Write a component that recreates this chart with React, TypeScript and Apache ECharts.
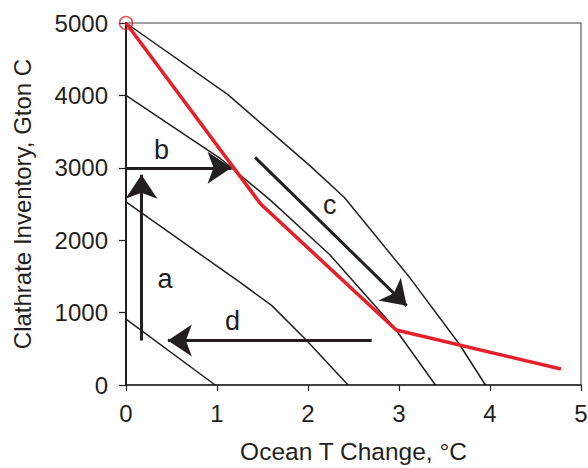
import React, { useEffect, useRef } from "react";
import * as echarts from "echarts";

// Curves (x: ocean T change °C, y: clathrate inventory Gton C)
const curve1X = [0, 1.12, 2.02, 2.4, 3.12, 3.66, 3.95];
const curve1Y = [5000, 4010, 3030, 2590, 1480, 570, 0];
const curve2X = [0, 1.03, 1.58, 2.24, 2.95, 3.4];
const curve2Y = [4000, 3135, 2560, 1800, 790, 0];
const curve3X = [0, 1.25, 1.6, 1.98, 2.44];
const curve3Y = [2530, 1420, 1100, 622, 0];
const curve4X = [0, 0.98];
const curve4Y = [910, 0];
const redX = [0, 1.48, 2.97, 4.78];
const redY = [5000, 2500, 760, 220];
const startPoint = [0, 5000];

// Arrows: start -> tip
const arrowStarts = [[0.17, 613], [0, 3000], [1.418, 3144], [2.7, 613]];
const arrowTips = [[0.17, 2905], [1.16, 3000], [3.085, 1093], [0.46, 613]];

// Letter labels
const letterNames = ["a", "b", "c", "d"];
const letterX = [0.43, 0.39, 2.24, 1.17];
const letterY = [1466, 3250, 2490, 890];

const xTicks = [0, 1, 2, 3, 4, 5];
const yTicks = [0, 1000, 2000, 3000, 4000, 5000];

const FONT = "'Liberation Sans', Arial, Helvetica, sans-serif";
const INK = "#231f20";
const RED = "#e5202b";

const pairs = (xs: number[], ys: number[]) => xs.map((x, i) => [x, ys[i]]);

export default function App() {
  const ref = useRef<HTMLDivElement>(null);
  useEffect(() => {
    document.body.style.margin = "0";
    const chart = echarts.init(ref.current!, undefined, { renderer: "svg" });
    const curveStyle = { color: INK, width: 1.5 };
    chart.setOption({
      animation: false,
      backgroundColor: "#ffffff",
      grid: {
        left: 126,
        right: 7,
        top: 23,
        bottom: 83,
        containLabel: false,
        outerBoundsMode: "none",
        show: true,
        borderColor: "#808080",
        borderWidth: 1.5,
      },
      xAxis: {
        type: "value",
        min: xTicks[0],
        max: xTicks[xTicks.length - 1],
        interval: 1,
        name: "Ocean T Change, °C",
        nameLocation: "middle",
        nameGap: 54,
        nameTextStyle: { fontFamily: FONT, fontSize: 24.5, color: INK },
        axisLine: { show: true, lineStyle: { color: INK, width: 1.5 } },
        axisTick: { show: true, inside: false, length: 6, lineStyle: { color: INK, width: 1.2 } },
        axisLabel: { fontFamily: FONT, fontSize: 24, color: INK, margin: 16 },
        splitLine: { show: false },
      },
      yAxis: {
        type: "value",
        min: yTicks[0],
        max: yTicks[yTicks.length - 1],
        interval: 1000,
        name: "Clathrate Inventory, Gton C",
        nameLocation: "middle",
        nameGap: 92,
        nameTextStyle: { fontFamily: FONT, fontSize: 24, color: INK },
        axisLine: { show: true, lineStyle: { color: INK, width: 2 } },
        axisTick: { show: true, inside: false, length: 7, lineStyle: { color: INK, width: 1.2 } },
        axisLabel: {
          fontFamily: FONT,
          fontSize: 24,
          color: INK,
          margin: 18,
          formatter: (v: number) => String(v),
        },
        splitLine: { show: false },
      },
      series: [
        { type: "line", data: pairs(curve1X, curve1Y), symbol: "none", lineStyle: curveStyle, z: 3 },
        { type: "line", data: pairs(curve2X, curve2Y), symbol: "none", lineStyle: curveStyle, z: 3 },
        { type: "line", data: pairs(curve3X, curve3Y), symbol: "none", lineStyle: curveStyle, z: 3 },
        { type: "line", data: pairs(curve4X, curve4Y), symbol: "none", lineStyle: curveStyle, z: 3 },
        {
          type: "lines",
          coordinateSystem: "cartesian2d",
          symbol: ["none", "arrow"],
          symbolSize: [15, 24],
          lineStyle: { color: INK, width: 3, opacity: 1 },
          data: arrowStarts.map((s, i) => ({ coords: [s, arrowTips[i]] })),
          z: 4,
        },
        {
          type: "line",
          data: pairs(redX, redY),
          symbol: "none",
          lineStyle: { color: RED, width: 3.5 },
          z: 5,
        },
        {
          type: "scatter",
          data: [startPoint],
          symbol: "circle",
          symbolSize: 13,
          itemStyle: { color: "rgba(0,0,0,0)", borderColor: RED, borderWidth: 1.5 },
          z: 6,
        },
        {
          type: "scatter",
          symbolSize: 0,
          data: letterNames.map((n, i) => ({ name: n, value: [letterX[i], letterY[i]] })),
          label: {
            show: true,
            position: "inside",
            formatter: "{b}",
            fontFamily: FONT,
            fontSize: 27,
            color: INK,
            opacity: 1,
            textBorderWidth: 0,
          },
          z: 6,
        },
      ],
    });
    return () => chart.dispose();
  }, []);
  return <div ref={ref} style={{ width: 588, height: 468 }} />;
}
